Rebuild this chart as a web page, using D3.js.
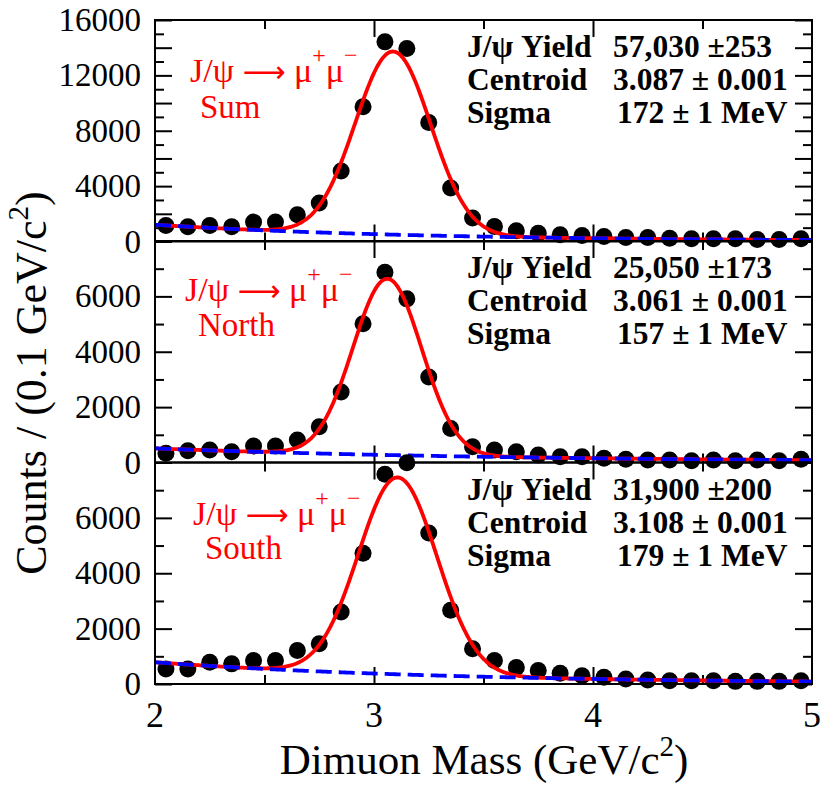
<!DOCTYPE html>
<html>
<head>
<meta charset="utf-8">
<script src="https://cdn.jsdelivr.net/npm/d3@7"></script>
<style>
  html, body { margin: 0; padding: 0; background: #fff; }
  svg { display: block; }
  text { font-family: "Liberation Serif", "DejaVu Serif", serif; }
</style>
</head>
<body>
<svg id="chart" width="821" height="785"></svg>
<script>
// ---------------- DATA ----------------
const binCenters = [2.05,2.15,2.25,2.35,2.45,2.55,2.65,2.75,2.85,2.95,
                    3.05,3.15,3.25,3.35,3.45,3.55,3.65,3.75,3.85,3.95,
                    4.05,4.15,4.25,4.35,4.45,4.55,4.65,4.75,4.85,4.95];
const sumCounts   = [1150,1060,1150,1060,1400,1400,1940,2780,5090,9740,
                     14420,13940,8600,3870,1690,1090,780,600,490,440,
                     360,290,290,240,200,200,200,145,145,200];
const northCounts = [330,425,450,390,595,595,810,1290,2550,5010,
                     6870,5910,3090,1230,570,450,390,270,210,210,
                     150,115,90,90,65,90,65,90,65,115];
const southCounts = [545,545,785,727,850,850,1210,1450,2600,4725,
                     7575,7990,5450,2660,1270,850,600,485,385,300,
                     240,180,145,120,120,120,95,95,95,120];
const panelNames  = ["Sum","North","South"];
const yMaxes      = [16000, 8000, 8000];
const yLabelSteps = [4000, 2000, 2000];
const fitYields   = [57030, 25050, 31900];
const fitCentroids= [3.087, 3.061, 3.108];
const fitSigmas   = [0.172, 0.157, 0.179];
const bgAtStart   = [1210, 510, 785];      // background level at 2 GeV
const bgDecay     = [0.82, 0.60, 0.73];    // background exponential slope (1/GeV)
const yieldText   = ["57,030 \u00B1253", "25,050 \u00B1173", "31,900 \u00B1200"];
const centroidText= ["3.087 \u00B1 0.001", "3.061 \u00B1 0.001", "3.108 \u00B1 0.001"];
const sigmaText   = ["172 \u00B1 1 MeV", "157 \u00B1 1 MeV", "179 \u00B1 1 MeV"];
const xTickLabels = [2, 3, 4, 5];
const binWidth = 0.1;

// ---------------- LAYOUT ----------------
const svg = d3.select("#chart");
const left = 155, right = 812;
const panelTops = [20, 241, 462.5];
const panelH = 221.5;

const x = d3.scaleLinear().domain([2, 5]).range([left, right]);
const allCounts = [sumCounts, northCounts, southCounts];

panelNames.forEach((name, i) => {
  const top = panelTops[i], bottom = top + panelH;
  const y = d3.scaleLinear().domain([0, yMaxes[i]]).range([bottom, top]);
  const g = svg.append("g");

  // axes (ticks inward)
  const majorY = d3.range(0, yMaxes[i] + 1, 2000);
  const minorY = d3.range(1000, yMaxes[i], 2000);
  const isTop = i === 0;
  const leftAx = d3.axisLeft(y).tickValues(majorY).tickSizeInner(-17).tickSizeOuter(0).tickPadding(14)
    .tickFormat(d => (d % yLabelSteps[i] === 0 && (isTop || d < yMaxes[i])) ? d : "");
  const la = g.append("g").attr("transform", `translate(${left},0)`).call(leftAx);
  la.select(".domain").remove();
  la.selectAll("text").attr("font-size", 33).attr("fill", "#000")
    .style("font-family", '"Liberation Serif", serif');
  la.selectAll("line").attr("stroke-width", 2);

  g.append("g").attr("transform", `translate(${left},0)`)
    .call(d3.axisLeft(y).tickValues(minorY).tickSizeInner(-9).tickSizeOuter(0).tickFormat(""))
    .call(s => { s.select(".domain").remove(); s.selectAll("line").attr("stroke-width", 2); });
  g.append("g").attr("transform", `translate(${right},0)`)
    .call(d3.axisRight(y).tickValues(majorY).tickSizeInner(-17).tickSizeOuter(0).tickFormat(""))
    .call(s => { s.select(".domain").remove(); s.selectAll("line").attr("stroke-width", 2); });
  g.append("g").attr("transform", `translate(${right},0)`)
    .call(d3.axisRight(y).tickValues(minorY).tickSizeInner(-9).tickSizeOuter(0).tickFormat(""))
    .call(s => { s.select(".domain").remove(); s.selectAll("line").attr("stroke-width", 2); });

  // x ticks top & bottom
  const majorX = [3, 4];
  const minorX = [2.5, 3.5, 4.5];
  [[bottom, d3.axisBottom], [top, d3.axisTop]].forEach(([yy, axFn]) => {
    g.append("g").attr("transform", `translate(0,${yy})`)
      .call(axFn(x).tickValues(majorX).tickSizeInner(-17).tickSizeOuter(0).tickFormat(""))
      .call(s => { s.select(".domain").remove(); s.selectAll("line").attr("stroke-width", 2); });
    g.append("g").attr("transform", `translate(0,${yy})`)
      .call(axFn(x).tickValues(minorX).tickSizeInner(-9).tickSizeOuter(0).tickFormat(""))
      .call(s => { s.select(".domain").remove(); s.selectAll("line").attr("stroke-width", 2); });
  });

  // data points
  const counts = allCounts[i];
  g.append("g").selectAll("circle").data(binCenters).join("circle")
    .attr("cx", d => x(d)).attr("cy", (d, k) => y(counts[k]))
    .attr("r", 8.5).attr("fill", "#000");

  // fit: exponential background + gaussian
  const bg = m => bgAtStart[i] * Math.exp(-bgDecay[i] * (m - 2));
  const amp = fitYields[i] * binWidth / (fitSigmas[i] * Math.sqrt(2 * Math.PI));
  const fit = m => bg(m) + amp * Math.exp(-Math.pow(m - fitCentroids[i], 2) / (2 * fitSigmas[i] * fitSigmas[i]));
  const grid = d3.range(2, 5.0001, 0.005);
  const line = d3.line().x(d => x(d[0])).y(d => y(d[1]));
  g.append("path").datum(grid.map(m => [m, fit(m)]))
    .attr("d", line).attr("fill", "none").attr("stroke", "#ff0000").attr("stroke-width", 3.8);
  g.append("path").datum(grid.map(m => [m, bg(m)]))
    .attr("d", line).attr("fill", "none").attr("stroke", "#0000ff").attr("stroke-width", 3.8)
    .attr("stroke-dasharray", "16 7");

  // frame
  g.append("rect").attr("x", left).attr("y", top).attr("width", right - left).attr("height", panelH)
    .attr("fill", "none").attr("stroke", "#000").attr("stroke-width", 2);

  // red labels
  const lx = [190, 185, 193][i];
  const t = g.append("text").attr("x", lx).attr("y", top + [62, 60, 62][i]).attr("fill", "#ff0000").attr("font-size", 34);
  t.append("tspan").text("J/\u03C8 ");
  t.append("tspan").style("font-family", '"DejaVu Sans", sans-serif').attr("font-size", 30).text("\u27F6");
  t.append("tspan").text(" \u03BC");
  t.append("tspan").attr("dy", -19).attr("font-size", 24).text("+");
  t.append("tspan").attr("dy", 19).text("\u03BC");
  t.append("tspan").attr("dy", -19).attr("font-size", 24).text("\u2212");
  g.append("text").attr("x", [200, 198, 205][i]).attr("y", top + [98, 95, 96][i])
    .attr("fill", "#ff0000").attr("font-size", 33).text(name);

  // stats
  const sx = 467, vx = 613;
  const rows = [
    ["J/\u03C8 Yield", yieldText[i], vx],
    ["Centroid", centroidText[i], vx],
    ["Sigma", sigmaText[i], vx + 4]
  ];
  rows.forEach((r, k) => {
    const by = top + 37 + k * 33;
    g.append("text").attr("x", sx).attr("y", by).attr("font-size", 31.5).attr("font-weight", "bold").text(r[0]);
    g.append("text").attr("x", r[2]).attr("y", by).attr("font-size", 31.5).attr("font-weight", "bold").text(r[1]);
  });

  // x tick labels only on bottom panel
  if (i === 2) {
    g.append("g").selectAll("text").data(xTickLabels).join("text")
      .attr("x", d => x(d)).attr("y", bottom + 43).attr("text-anchor", "middle")
      .attr("font-size", 36).text(d => d);
  }
});

// axis titles
const xt = svg.append("text").attr("x", 484).attr("y", 774).attr("text-anchor", "middle").attr("font-size", 43);
xt.append("tspan").text("Dimuon Mass (GeV/c");
xt.append("tspan").attr("dy", -18).attr("font-size", 29).text("2");
xt.append("tspan").attr("dy", 18).text(")");

const yt = svg.append("text").attr("transform", "translate(46,383) rotate(-90)")
  .attr("text-anchor", "middle").attr("font-size", 44);
yt.append("tspan").text("Counts / (0.1 GeV/c");
yt.append("tspan").attr("dy", -18).attr("font-size", 29).text("2");
yt.append("tspan").attr("dy", 18).text(")");
</script>
</body>
</html>
